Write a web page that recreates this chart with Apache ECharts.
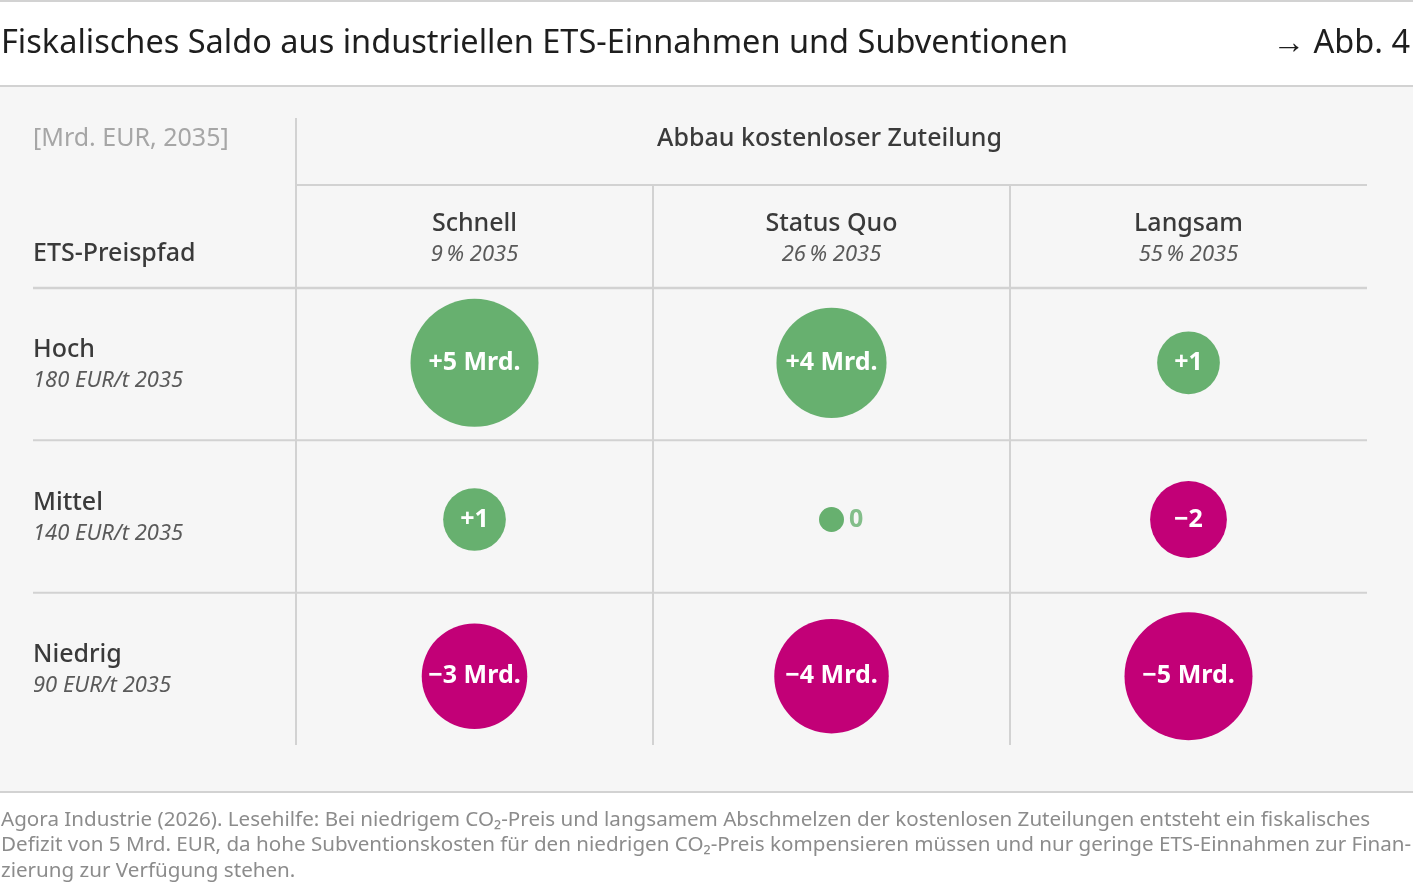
<!DOCTYPE html>
<html>
<head>
<meta charset="utf-8">
<script src="https://cdn.jsdelivr.net/npm/echarts@6/dist/echarts.min.js"></script>
<style>
html,body{margin:0;padding:0;background:#fff;}
#c{width:1413px;height:894px;}
</style>
</head>
<body>
<div id="c"></div>
<script>
// ---- data ----
const columns = ['Schnell', 'Status Quo', 'Langsam'];
const columnSubs = ['9\u2009% 2035', '26\u2009% 2035', '55\u2009% 2035'];
const rows = ['Hoch', 'Mittel', 'Niedrig'];
const rowSubs = ['180 EUR/t 2035', '140 EUR/t 2035', '90 EUR/t 2035'];
// fiscal balance [Mrd. EUR, 2035], rows x columns
const valuesHoch = [5.0, 3.7, 1.2];
const valuesMittel = [1.2, 0.0, -1.8];
const valuesNiedrig = [-3.4, -4.0, -5.0];
const labelsHoch = ['+5 Mrd.', '+4 Mrd.', '+1'];
const labelsMittel = ['+1', '0', '\u22122'];
const labelsNiedrig = ['\u22123 Mrd.', '\u22124 Mrd.', '\u22125 Mrd.'];

const FONT = '"Noto Sans", "Open Sans", sans-serif';
const GREEN = '#67b06f';
const MAGENTA = '#c20077';
const LINE = '#d2d2d2';
const DARK = '#3a3a3a';
const SUB = '#5a5a5a';

const valueRows = [valuesHoch, valuesMittel, valuesNiedrig];
const labelRows = [labelsHoch, labelsMittel, labelsNiedrig];
const data = [];
valueRows.forEach((vals, r) => vals.forEach((v, c) => {
  data.push({ value: [c, r, v], labelText: labelRows[r][c] });
}));

// layout
const W = 1413, H = 894;
const gLeft = 296, gRight = 1367, gTop = 288, gBottom = 745;
const colW = (gRight - gLeft) / 3, rowH = (gBottom - gTop) / 3;

const chart = echarts.init(document.getElementById('c'), null, { renderer: 'canvas' });

function line(x1, y1, x2, y2, w) {
  return { type: 'line', silent: true, shape: { x1, y1, x2, y2 }, style: { stroke: LINE, lineWidth: w || 2 } };
}
function text(x, y, t, o) {
  return { type: 'text', silent: true, x, y, style: Object.assign({ text: t, fontFamily: FONT, fill: DARK, fontSize: 25, textVerticalAlign: 'middle' }, o || {}) };
}

const graphics = [];
// background panel
graphics.push({ type: 'rect', silent: true, z: -10, shape: { x: 0, y: 87, width: W, height: 705 }, style: { fill: '#f6f6f6' } });
graphics.push(line(0, 1, W, 1, 2));
graphics.push(line(0, 86, W, 86, 2));
graphics.push(line(0, 792, W, 792, 2));
// title
graphics.push(text(1, 44, 'Fiskalisches Saldo aus industriellen ETS-Einnahmen und Subventionen', { fontSize: 32.5, fill: '#1e1e1e' }));
graphics.push(text(1410, 44, '\u2192 Abb. 4', { fontSize: 32.5, fill: '#1e1e1e', textAlign: 'right' }));
// table frame
graphics.push(line(gLeft, 118, gLeft, gBottom));
graphics.push(line(gLeft, 185, gRight, 185));
graphics.push(line(gLeft + colW, 185, gLeft + colW, gBottom));
graphics.push(line(gLeft + 2 * colW, 185, gLeft + 2 * colW, gBottom));
graphics.push(line(33, gTop, gRight, gTop, 2.5));
graphics.push(line(33, gTop + rowH, gRight, gTop + rowH));
graphics.push(line(33, gTop + 2 * rowH, gRight, gTop + 2 * rowH));
// header texts
graphics.push(text(33, 139, '[Mrd. EUR, 2035]', { fill: '#a6a6a6' }));
graphics.push(text(33, 254, 'ETS-Preispfad', { fontWeight: 500 }));
graphics.push(text((gLeft + gRight) / 2 - 2, 139, 'Abbau kostenloser Zuteilung', { textAlign: 'center', fontWeight: 500 }));
columns.forEach((c, i) => {
  const cx = gLeft + colW * (i + 0.5);
  graphics.push(text(cx, 224, c, { textAlign: 'center', fontWeight: 500 }));
  graphics.push(text(cx, 255, columnSubs[i], { textAlign: 'center', fontStyle: 'italic', fontSize: 22, fill: SUB }));
});
rows.forEach((r, i) => {
  const cy = gTop + rowH * (i + 0.5);
  graphics.push(text(33, cy - 14, r, { fontWeight: 500 }));
  graphics.push(text(33, cy + 17, rowSubs[i], { fontStyle: 'italic', fontSize: 22, fill: SUB }));
});
// footer
const footer = [
  'Agora Industrie (2026). Lesehilfe: Bei niedrigem CO\u2082-Preis und langsamem Abschmelzen der kostenlosen Zuteilungen entsteht ein fiskalisches',
  'Defizit von 5 Mrd. EUR, da hohe Subventionskosten f\u00fcr den niedrigen CO\u2082-Preis kompensieren m\u00fcssen und nur geringe ETS-Einnahmen zur Finan-',
  'zierung zur Verf\u00fcgung stehen.'
];
footer.forEach((t, i) => graphics.push(text(1, 820 + i * 25.5, t, { fontSize: 20.6, fill: '#8c8c8c' })));

const maxAbs = 5, maxDiam = 128, minDiam = 25;
const labelBase = { fontFamily: FONT, fontWeight: 'bold', fontSize: 25 };

chart.setOption({
  animation: false,
  backgroundColor: '#ffffff',
  // bubble plotting grid (row centres of bubbles sit slightly below the cell centres in the reference)
  grid: { left: gLeft, right: W - gRight, top: 284.5, bottom: H - 754.5 },
  xAxis: { type: 'value', min: -0.5, max: 2.5, show: false },
  yAxis: { type: 'value', min: -0.5, max: 2.5, inverse: true, show: false },
  graphic: graphics,
  series: [{
    type: 'scatter',
    data: data,
    symbol: 'circle',
    symbolSize: (v) => Math.max(minDiam, maxDiam * Math.sqrt(Math.abs(v[2]) / maxAbs)),
    itemStyle: { color: (p) => p.value[2] >= 0 ? GREEN : MAGENTA, opacity: 1 },
    label: Object.assign({
      show: true,
      position: 'inside',
      formatter: (p) => p.value[2] === 0 ? '' : p.data.labelText,
      color: '#ffffff'
    }, labelBase),
    emphasis: { disabled: true }
  }, {
    type: 'scatter',
    data: data.filter(d => d.value[2] === 0),
    symbolSize: minDiam,
    itemStyle: { color: 'rgba(0,0,0,0)' },
    label: Object.assign({
      show: true, position: 'right', distance: 5,
      formatter: (p) => p.data.labelText,
      color: GREEN
    }, labelBase),
    z: 3,
    emphasis: { disabled: true }
  }]
});
</script>
</body>
</html>
